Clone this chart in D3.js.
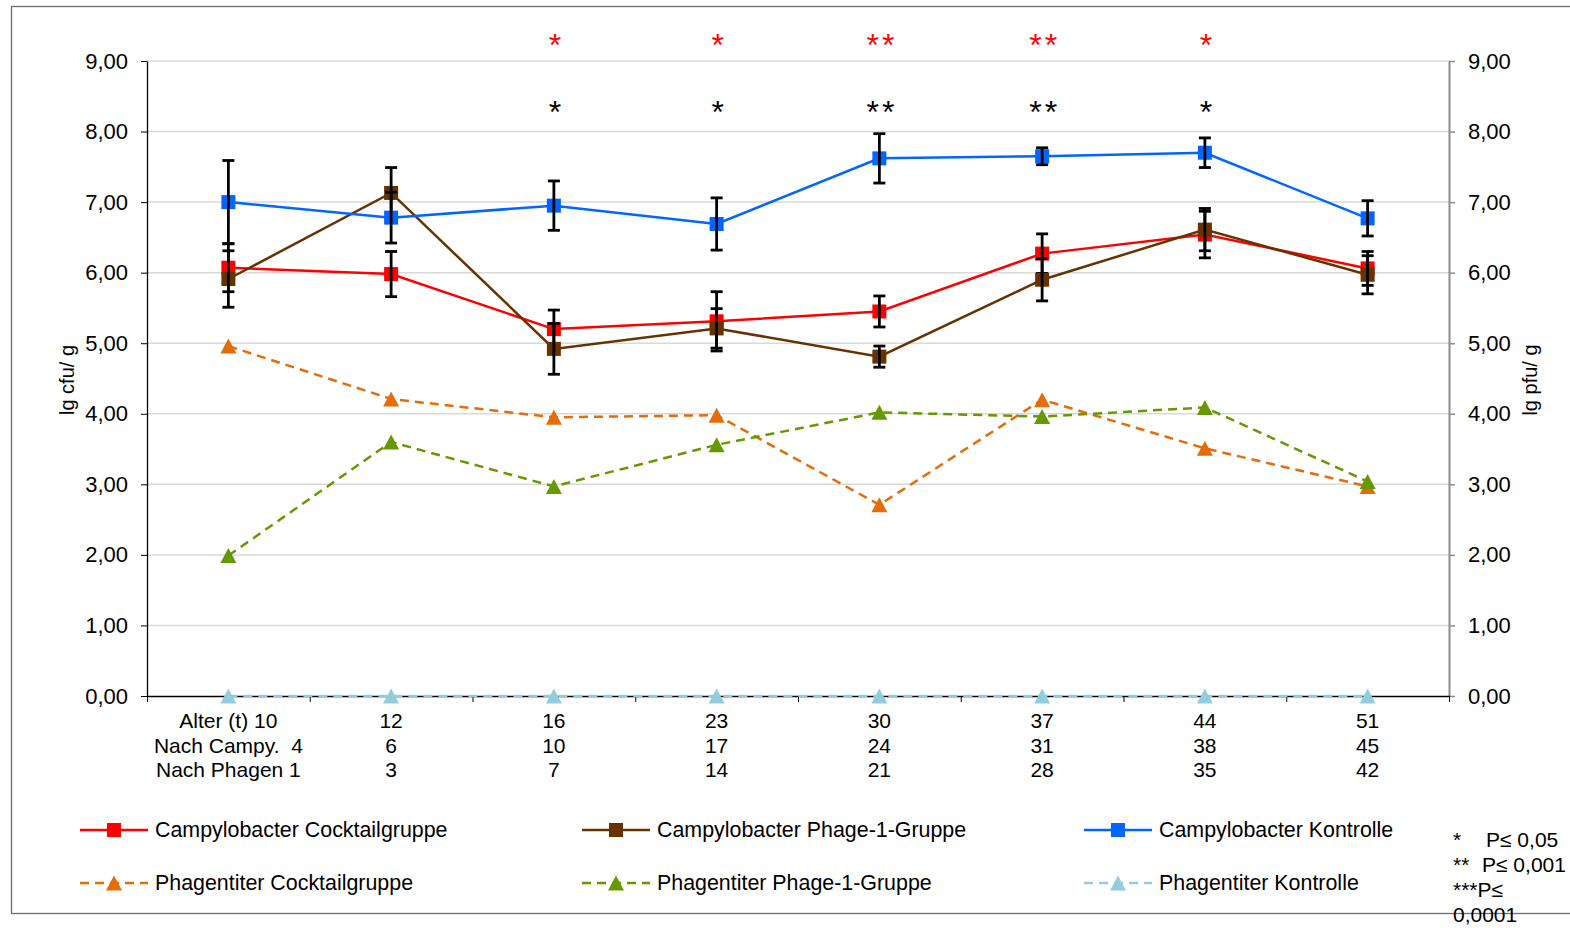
<!DOCTYPE html>
<html>
<head>
<meta charset="utf-8">
<title>Campylobacter und Phagentiter</title>
<script src="https://d3js.org/d3.v7.min.js"></script>
<style>
  body { margin: 0; background: #fff; }
  svg text { font-family: "Liberation Sans", Arial, sans-serif; fill: #000; }
</style>
</head>
<body>
<div id="chart"></div>
<script>
// x categories (three label rows)
var ageDays = ["10", "12", "16", "23", "30", "37", "44", "51"];
var afterCampy = ["4", "6", "10", "17", "24", "31", "38", "45"];
var afterPhage = ["1", "3", "7", "14", "21", "28", "35", "42"];
var rowTitles = ["Alter (t)", "Nach Campy. ", "Nach Phagen"];

// lg cfu/g, left axis
var campyCocktail    = [6.07, 5.98, 5.20, 5.31, 5.45, 6.27, 6.54, 6.06];
var campyCocktailErr = [0.34, 0.32, 0.27, 0.42, 0.22, 0.28, 0.33, 0.24];
var campyPhage1      = [5.91, 7.13, 4.92, 5.21, 4.81, 5.90, 6.61, 5.97];
var campyPhage1Err   = [0.40, 0.36, 0.36, 0.28, 0.15, 0.30, 0.30, 0.27];
var campyControl     = [7.00, 6.78, 6.95, 6.69, 7.62, 7.65, 7.70, 6.77];
var campyControlErr  = [0.59, 0.36, 0.35, 0.37, 0.35, 0.12, 0.21, 0.25];

// lg pfu/g, right axis
var phageCocktail = [4.96, 4.21, 3.95, 3.98, 2.71, 4.20, 3.51, 2.97];
var phagePhage1   = [1.99, 3.60, 2.97, 3.56, 4.02, 3.96, 4.09, 3.04];
var phageControl  = [0, 0, 0, 0, 0, 0, 0, 0];

// significance marks
var sigCocktail = ["", "", "*", "*", "**", "**", "*", ""];
var sigPhage1   = ["", "", "*", "*", "**", "**", "*", ""];

var yTicks = [0, 1, 2, 3, 4, 5, 6, 7, 8, 9];
var pNotes = [["*", "P\u2264 0,05"], ["**", "P\u2264 0,001"], ["***P\u2264", ""], ["0,0001", ""]];

var W = 1570, H = 928;
var plotL = 147, plotR = 1449, plotT = 61, plotB = 696;

var svg = d3.select("#chart").append("svg")
    .attr("width", W)
    .attr("height", H);

// outer frame
svg.append("rect")
    .attr("x", 11.5).attr("y", 6.5)
    .attr("width", 1570).attr("height", 907)
    .attr("fill", "none")
    .attr("stroke", "#6e6e6e")
    .attr("stroke-width", 1.3);

var x = d3.scaleBand().domain(d3.range(ageDays.length)).range([plotL, plotR]);
var xEdge = d3.scaleLinear().domain([0, ageDays.length]).range([plotL, plotR]);
var y = d3.scaleLinear().domain([0, 9]).range([plotB, plotT]);
var y2 = d3.scaleLinear().domain([0, 9]).range([plotB, plotT]);
function cx(i) { return x(i) + x.bandwidth() / 2; }
var fmt = function(d) { return d3.format(".2f")(d).replace(".", ","); };

// grid
svg.append("g").selectAll("line")
    .data(yTicks.filter(function(d) { return d > 0; }))
    .enter().append("line")
    .attr("x1", plotL).attr("x2", plotR)
    .attr("y1", function(d) { return y(d); })
    .attr("y2", function(d) { return y(d); })
    .attr("stroke", "#d9d9d9")
    .attr("stroke-width", 1.5);

// left axis
var gL = svg.append("g")
    .attr("transform", "translate(" + plotL + ",0)")
    .call(d3.axisLeft(y).tickValues(yTicks).tickFormat(fmt).tickSize(6).tickPadding(13).tickSizeOuter(0));
gL.select(".domain").attr("stroke", "#000").attr("stroke-width", 1.3);
gL.selectAll(".tick line").attr("stroke", "#000");
gL.selectAll("text").attr("font-size", 22).attr("font-family", "Liberation Sans, Arial, sans-serif");

// right axis
var gR = svg.append("g")
    .attr("transform", "translate(" + plotR + ",0)")
    .call(d3.axisRight(y2).tickValues(yTicks).tickFormat(fmt).tickSize(6).tickPadding(13).tickSizeOuter(0));
gR.select(".domain").attr("stroke", "#8c8c8c").attr("stroke-width", 2);
gR.selectAll(".tick line").attr("stroke", "#8c8c8c").attr("stroke-width", 1.5);
gR.selectAll("text").attr("font-size", 22).attr("font-family", "Liberation Sans, Arial, sans-serif");

// x axis, ticks on the category edges
var gX = svg.append("g")
    .attr("transform", "translate(0," + plotB + ")")
    .call(d3.axisBottom(xEdge).tickValues(d3.range(ageDays.length + 1)).tickFormat("").tickSize(6).tickSizeOuter(0));
gX.select(".domain").attr("stroke", "#000").attr("stroke-width", 1.3);
gX.selectAll(".tick line").attr("stroke", "#000");

// x labels
var xRows = [ageDays, afterCampy, afterPhage];
xRows.forEach(function(row, r) {
    svg.append("g").selectAll("text")
        .data(row)
        .enter().append("text")
        .attr("x", function(d, i) { return cx(i); })
        .attr("y", 728 + r * 24.5)
        .attr("text-anchor", "middle")
        .attr("font-size", 21)
        .style("white-space", "pre")
        .text(function(d, i) { return i === 0 ? rowTitles[r] + " " + d : d; });
});

// axis titles
svg.append("text")
    .attr("transform", "translate(74,380) rotate(-90)")
    .attr("text-anchor", "middle")
    .attr("font-size", 20)
    .text("lg cfu/ g");
svg.append("text")
    .attr("transform", "translate(1537,380) rotate(-90)")
    .attr("text-anchor", "middle")
    .attr("font-size", 20)
    .text("lg pfu/ g");

var campySeries = [
    { name: "Campylobacter Cocktailgruppe", values: campyCocktail, err: campyCocktailErr, color: "#ff0000" },
    { name: "Campylobacter Phage-1-Gruppe", values: campyPhage1, err: campyPhage1Err, color: "#663300" },
    { name: "Campylobacter Kontrolle", values: campyControl, err: campyControlErr, color: "#0066ff" }
];
var phageSeries = [
    { name: "Phagentiter Cocktailgruppe", values: phageCocktail, color: "#e46c0a" },
    { name: "Phagentiter Phage-1-Gruppe", values: phagePhage1, color: "#669900" },
    { name: "Phagentiter Kontrolle", values: phageControl, color: "#93cddd" }
];

var tri = "M0,-7.5L8,7.5L-8,7.5Z";
var dash = "9,6";

phageSeries.forEach(function(s) {
    var line = d3.line().x(function(d, i) { return cx(i); }).y(function(d) { return y2(d); });
    svg.append("path")
        .datum(s.values)
        .attr("d", line)
        .attr("fill", "none")
        .attr("stroke", s.color)
        .attr("stroke-width", 2.5)
        .attr("stroke-dasharray", dash);
    svg.append("g").selectAll("path")
        .data(s.values)
        .enter().append("path")
        .attr("d", tri)
        .attr("transform", function(d, i) { return "translate(" + cx(i) + "," + y2(d) + ")"; })
        .attr("fill", s.color);
});

campySeries.forEach(function(s) {
    var line = d3.line().x(function(d, i) { return cx(i); }).y(function(d) { return y(d); });
    svg.append("path")
        .datum(s.values)
        .attr("d", line)
        .attr("fill", "none")
        .attr("stroke", s.color)
        .attr("stroke-width", 2.5);
    svg.append("g").selectAll("rect")
        .data(s.values)
        .enter().append("rect")
        .attr("x", function(d, i) { return cx(i) - 7; })
        .attr("y", function(d) { return y(d) - 7; })
        .attr("width", 14).attr("height", 14)
        .attr("fill", s.color);
    var eb = svg.append("g").attr("stroke", "#000").attr("stroke-width", 2.8);
    s.values.forEach(function(v, i) {
        var lo = y(v - s.err[i]), hi = y(v + s.err[i]), c = cx(i);
        eb.append("line").attr("x1", c).attr("x2", c).attr("y1", lo).attr("y2", hi);
        eb.append("line").attr("x1", c - 6).attr("x2", c + 6).attr("y1", lo).attr("y2", lo);
        eb.append("line").attr("x1", c - 6).attr("x2", c + 6).attr("y1", hi).attr("y2", hi);
    });
});

// significance stars
function stars(marks, level, color) {
    svg.append("g").selectAll("text")
        .data(marks)
        .enter().append("text")
        .attr("x", function(d, i) { return cx(i) + 2.5; })
        .attr("y", y(level) + 15)
        .attr("text-anchor", "middle")
        .attr("font-size", 32)
        .attr("letter-spacing", 3)
        .style("fill", color)
        .text(function(d) { return d; });
}
stars(sigCocktail, 9.28, "#ff0000");
stars(sigPhage1, 8.33, "#000");

// legend
var allSeries = campySeries.concat(phageSeries);
var legend = svg.append("g");
allSeries.forEach(function(s, k) {
    var col = k % 3, row = Math.floor(k / 3);
    var lx = 80 + col * 502, ly = 830 + row * 53;
    var g = legend.append("g").attr("transform", "translate(" + lx + "," + ly + ")");
    g.append("line")
        .attr("x1", 0).attr("x2", 68)
        .attr("stroke", s.color)
        .attr("stroke-width", 2.5)
        .attr("stroke-dasharray", row ? dash : null);
    if (row) {
        g.append("path").attr("d", tri).attr("transform", "translate(34,0)").attr("fill", s.color);
    } else {
        g.append("rect").attr("x", 27).attr("y", -7).attr("width", 14).attr("height", 14).attr("fill", s.color);
    }
    g.append("text")
        .attr("x", 75).attr("y", 7)
        .attr("font-size", 21.4)
        .text(s.name);
});

// p-value note
pNotes.forEach(function(n, k) {
    var t = svg.append("text")
        .attr("x", 1453)
        .attr("y", 847 + k * 25)
        .attr("font-size", 21);
    t.append("tspan").text(n[0]);
    if (n[1]) t.append("tspan").attr("x", k === 0 ? 1486 : 1482).text(n[1]);
});
</script>
</body>
</html>
